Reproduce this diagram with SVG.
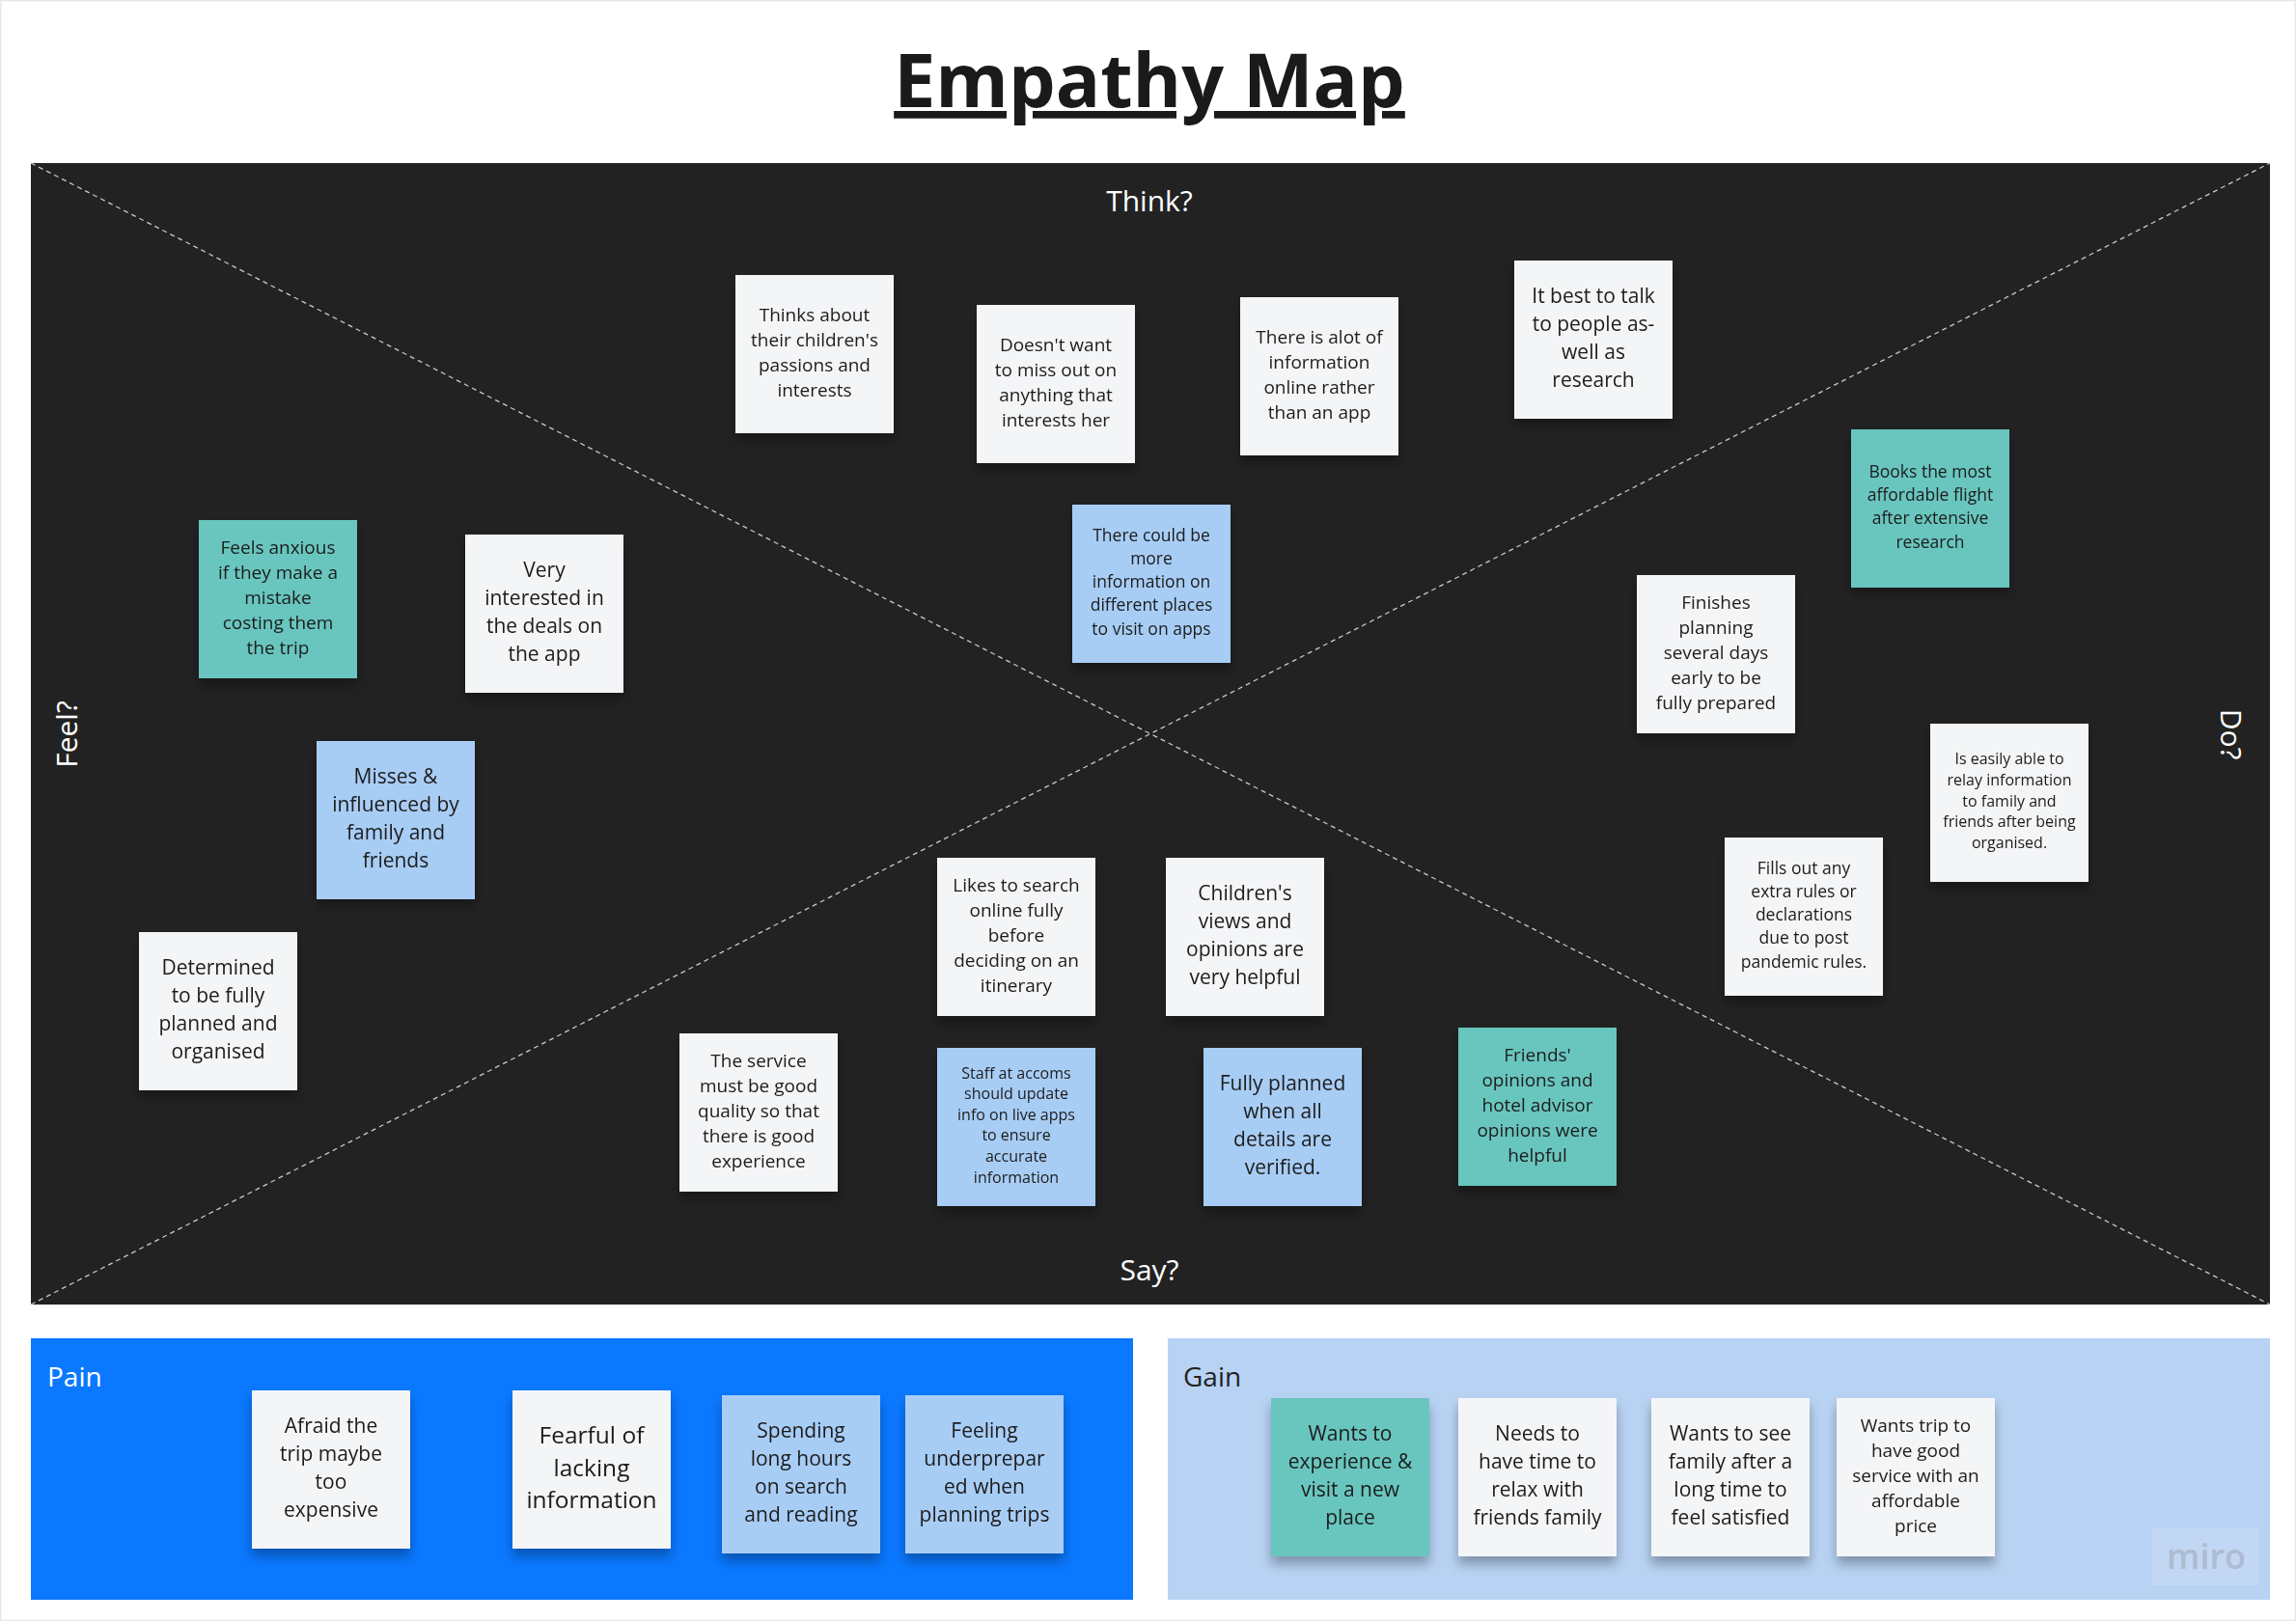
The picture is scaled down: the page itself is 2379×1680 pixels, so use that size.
<svg xmlns="http://www.w3.org/2000/svg" width="2379" height="1680" viewBox="0 0 2379 1680">
<defs>
<style>
text{font-family:"Open Sans","Noto Sans","Liberation Sans",sans-serif}
.nw{fill:#f4f5f7}
.nt{fill:#69c6bf}
.nb{fill:#a8cdf5}
.note{filter:url(#sh)}
.tx{fill:#1c1c1c;text-anchor:middle}
.f16{font-size:16px}
.f175{font-size:17.5px}
.f19{font-size:19px}
.f21{font-size:21px}
.f245{font-size:24.5px}
.lbl{fill:#ffffff;font-size:30px;text-anchor:middle}
.diag{stroke:#c8c8c8;stroke-width:1.3;stroke-dasharray:5 4;fill:none}
</style>
<filter id="sh" x="-20%" y="-20%" width="140%" height="150%">
<feDropShadow dx="0" dy="8" stdDeviation="6" flood-color="#000" flood-opacity="0.3"/>
</filter>
</defs>
<rect x="0" y="0" width="2379" height="1680" fill="#ffffff"/>
<rect x="0.5" y="0.5" width="2378" height="1679" fill="none" stroke="#e8e8e8" stroke-width="2"/>

<g id="title">
<text x="1191" y="111" text-anchor="middle" font-size="77" font-weight="700" fill="#1a1a1a" text-decoration="underline">Empathy Map</text>
</g>

<g id="panel">
<rect x="32" y="169" width="2320" height="1183" fill="#222222"/>
</g>

<g id="connectors">
<line class="diag" x1="32" y1="169" x2="2352" y2="1352"/>
<line class="diag" x1="32" y1="1352" x2="2352" y2="169"/>
</g>

<g id="labels">
<text class="lbl" x="1191" y="219">Think?</text>
<text class="lbl" x="1191" y="1327">Say?</text>
<text class="lbl" transform="translate(80 761) rotate(-90)" x="0" y="0">Feel?</text>
<text class="lbl" transform="translate(2301 761) rotate(90)" x="0" y="0">Do?</text>
</g>

<g id="n1" class="note" transform="translate(762 285)"><rect class="nw" width="164" height="164"/><text class="tx f19"><tspan x="82" y="48">Thinks about</tspan><tspan x="82" y="74">their children's</tspan><tspan x="82" y="100">passions and</tspan><tspan x="82" y="126">interests</tspan></text></g>
<g id="n2" class="note" transform="translate(1012 316)"><rect class="nw" width="164" height="164"/><text class="tx f19"><tspan x="82" y="48">Doesn't want</tspan><tspan x="82" y="74">to miss out on</tspan><tspan x="82" y="100">anything that</tspan><tspan x="82" y="126">interests her</tspan></text></g>
<g id="n3" class="note" transform="translate(1285 308)"><rect class="nw" width="164" height="164"/><text class="tx f19"><tspan x="82" y="48">There is alot of</tspan><tspan x="82" y="74">information</tspan><tspan x="82" y="100">online rather</tspan><tspan x="82" y="126">than an app</tspan></text></g>
<g id="n4" class="note" transform="translate(1569 270)"><rect class="nw" width="164" height="164"/><text class="tx f21"><tspan x="82" y="44">It best to talk</tspan><tspan x="82" y="73">to people as-</tspan><tspan x="82" y="102">well as</tspan><tspan x="82" y="131">research</tspan></text></g>
<g id="n5" class="note" transform="translate(1918 445)"><rect class="nt" width="164" height="164"/><text class="tx f175"><tspan x="82" y="50">Books the most</tspan><tspan x="82" y="74">affordable flight</tspan><tspan x="82" y="98">after extensive</tspan><tspan x="82" y="123">research</tspan></text></g>
<g id="n6" class="note" transform="translate(1111 523)"><rect class="nb" width="164" height="164"/><text class="tx f175"><tspan x="82" y="38">There could be</tspan><tspan x="82" y="62">more</tspan><tspan x="82" y="86">information on</tspan><tspan x="82" y="110">different places</tspan><tspan x="82" y="135">to visit on apps</tspan></text></g>
<g id="n7" class="note" transform="translate(206 539)"><rect class="nt" width="164" height="164"/><text class="tx f19"><tspan x="82" y="35">Feels anxious</tspan><tspan x="82" y="61">if they make a</tspan><tspan x="82" y="87">mistake</tspan><tspan x="82" y="113">costing them</tspan><tspan x="82" y="139">the trip</tspan></text></g>
<g id="n8" class="note" transform="translate(482 554)"><rect class="nw" width="164" height="164"/><text class="tx f21"><tspan x="82" y="44">Very</tspan><tspan x="82" y="73">interested in</tspan><tspan x="82" y="102">the deals on</tspan><tspan x="82" y="131">the app</tspan></text></g>
<g id="n9" class="note" transform="translate(1696 596)"><rect class="nw" width="164" height="164"/><text class="tx f19"><tspan x="82" y="35">Finishes</tspan><tspan x="82" y="61">planning</tspan><tspan x="82" y="87">several days</tspan><tspan x="82" y="113">early to be</tspan><tspan x="82" y="139">fully prepared</tspan></text></g>
<g id="n10" class="note" transform="translate(328 768)"><rect class="nb" width="164" height="164"/><text class="tx f21"><tspan x="82" y="44">Misses &amp;</tspan><tspan x="82" y="73">influenced by</tspan><tspan x="82" y="102">family and</tspan><tspan x="82" y="131">friends</tspan></text></g>
<g id="n11" class="note" transform="translate(2000 750)"><rect class="nw" width="164" height="164"/><text class="tx f16"><tspan x="82" y="42">Is easily able to</tspan><tspan x="82" y="64">relay information</tspan><tspan x="82" y="86">to family and</tspan><tspan x="82" y="107">friends after being</tspan><tspan x="82" y="129">organised.</tspan></text></g>
<g id="n12" class="note" transform="translate(1787 868)"><rect class="nw" width="164" height="164"/><text class="tx f175"><tspan x="82" y="38">Fills out any</tspan><tspan x="82" y="62">extra rules or</tspan><tspan x="82" y="86">declarations</tspan><tspan x="82" y="110">due to post</tspan><tspan x="82" y="135">pandemic rules.</tspan></text></g>
<g id="n13" class="note" transform="translate(971 889)"><rect class="nw" width="164" height="164"/><text class="tx f19"><tspan x="82" y="35">Likes to search</tspan><tspan x="82" y="61">online fully</tspan><tspan x="82" y="87">before</tspan><tspan x="82" y="113">deciding on an</tspan><tspan x="82" y="139">itinerary</tspan></text></g>
<g id="n14" class="note" transform="translate(1208 889)"><rect class="nw" width="164" height="164"/><text class="tx f21"><tspan x="82" y="44">Children's</tspan><tspan x="82" y="73">views and</tspan><tspan x="82" y="102">opinions are</tspan><tspan x="82" y="131">very helpful</tspan></text></g>
<g id="n15" class="note" transform="translate(144 966)"><rect class="nw" width="164" height="164"/><text class="tx f21"><tspan x="82" y="44">Determined</tspan><tspan x="82" y="73">to be fully</tspan><tspan x="82" y="102">planned and</tspan><tspan x="82" y="131">organised</tspan></text></g>
<g id="n16" class="note" transform="translate(704 1071)"><rect class="nw" width="164" height="164"/><text class="tx f19"><tspan x="82" y="35">The service</tspan><tspan x="82" y="61">must be good</tspan><tspan x="82" y="87">quality so that</tspan><tspan x="82" y="113">there is good</tspan><tspan x="82" y="139">experience</tspan></text></g>
<g id="n17" class="note" transform="translate(971 1086)"><rect class="nb" width="164" height="164"/><text class="tx f16"><tspan x="82" y="32">Staff at accoms</tspan><tspan x="82" y="53">should update</tspan><tspan x="82" y="75">info on live apps</tspan><tspan x="82" y="96">to ensure</tspan><tspan x="82" y="118">accurate</tspan><tspan x="82" y="140">information</tspan></text></g>
<g id="n18" class="note" transform="translate(1247 1086)"><rect class="nb" width="164" height="164"/><text class="tx f21"><tspan x="82" y="44">Fully planned</tspan><tspan x="82" y="73">when all</tspan><tspan x="82" y="102">details are</tspan><tspan x="82" y="131">verified.</tspan></text></g>
<g id="n19" class="note" transform="translate(1511 1065)"><rect class="nt" width="164" height="164"/><text class="tx f19"><tspan x="82" y="35">Friends'</tspan><tspan x="82" y="61">opinions and</tspan><tspan x="82" y="87">hotel advisor</tspan><tspan x="82" y="113">opinions were</tspan><tspan x="82" y="139">helpful</tspan></text></g>

<g id="pain">
<rect x="32" y="1387" width="1142" height="271" fill="#0a78ff"/>
<text x="49" y="1437" font-size="28" fill="#ffffff">Pain</text>
</g>
<g id="p1" class="note" transform="translate(261 1441)"><rect class="nw" width="164" height="164"/><text class="tx f21"><tspan x="82" y="44">Afraid the</tspan><tspan x="82" y="73">trip maybe</tspan><tspan x="82" y="102">too</tspan><tspan x="82" y="131">expensive</tspan></text></g>
<g id="p2" class="note" transform="translate(531 1441)"><rect class="nw" width="164" height="164"/><text class="tx f245"><tspan x="82" y="55">Fearful of</tspan><tspan x="82" y="89">lacking</tspan><tspan x="82" y="122">information</tspan></text></g>
<g id="p3" class="note" transform="translate(748 1446)"><rect class="nb" width="164" height="164"/><text class="tx f21"><tspan x="82" y="44">Spending</tspan><tspan x="82" y="73">long hours</tspan><tspan x="82" y="102">on search</tspan><tspan x="82" y="131">and reading</tspan></text></g>
<g id="p4" class="note" transform="translate(938 1446)"><rect class="nb" width="164" height="164"/><text class="tx f21"><tspan x="82" y="44">Feeling</tspan><tspan x="82" y="73">underprepar</tspan><tspan x="82" y="102">ed when</tspan><tspan x="82" y="131">planning trips</tspan></text></g>

<g id="gain">
<rect x="1210" y="1387" width="1142" height="271" fill="#b8d2f3"/>
<text x="1226" y="1437" font-size="28" fill="#222222">Gain</text>
<rect x="2230" y="1584" width="111" height="59" fill="#c2d7f4"/>
<text x="2286" y="1626" font-size="36" font-weight="600" text-anchor="middle" fill="#aebbd0">miro</text>
</g>
<g id="g1" class="note" transform="translate(1317 1449)"><rect class="nt" width="164" height="164"/><text class="tx f21"><tspan x="82" y="44">Wants to</tspan><tspan x="82" y="73">experience &amp;</tspan><tspan x="82" y="102">visit a new</tspan><tspan x="82" y="131">place</tspan></text></g>
<g id="g2" class="note" transform="translate(1511 1449)"><rect class="nw" width="164" height="164"/><text class="tx f21"><tspan x="82" y="44">Needs to</tspan><tspan x="82" y="73">have time to</tspan><tspan x="82" y="102">relax with</tspan><tspan x="82" y="131">friends family</tspan></text></g>
<g id="g3" class="note" transform="translate(1711 1449)"><rect class="nw" width="164" height="164"/><text class="tx f21"><tspan x="82" y="44">Wants to see</tspan><tspan x="82" y="73">family after a</tspan><tspan x="82" y="102">long time to</tspan><tspan x="82" y="131">feel satisfied</tspan></text></g>
<g id="g4" class="note" transform="translate(1903 1449)"><rect class="nw" width="164" height="164"/><text class="tx f19"><tspan x="82" y="35">Wants trip to</tspan><tspan x="82" y="61">have good</tspan><tspan x="82" y="87">service with an</tspan><tspan x="82" y="113">affordable</tspan><tspan x="82" y="139">price</tspan></text></g>
</svg>
